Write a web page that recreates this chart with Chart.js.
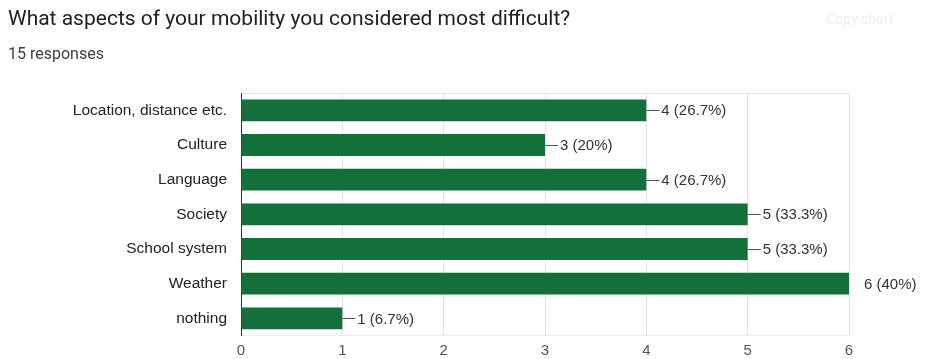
<!DOCTYPE html>
<html>
<head>
<meta charset="utf-8">
<script src="https://cdn.jsdelivr.net/npm/chart.js@4/dist/chart.umd.min.js"></script>
<style>
  html, body { margin: 0; padding: 0; background: #fff; }
  #wrap { width: 926px; height: 359px; position: relative; }
</style>
</head>
<body>
<div id="wrap"><canvas id="bar-chart"></canvas></div>
<script>
// datos
const categories = [
  "Location, distance etc.",
  "Culture",
  "Language",
  "Society",
  "School system",
  "Weather",
  "nothing",
];
const counts = [4, 3, 4, 5, 5, 6, 1];
const percents = ["26.7%", "20%", "26.7%", "33.3%", "33.3%", "40%", "6.7%"];
const xTicks = [0, 1, 2, 3, 4, 5, 6];

const titleText = "What aspects of your mobility you considered most difficult?";
const subtitleText = "15 responses";

// titulo, subtitulo y borde del area
const headerPlugin = {
  id: "header",
  beforeDraw(chart) {
    const ctx = chart.ctx;
    const a = chart.chartArea;
    ctx.save();
    ctx.textBaseline = "middle";
    ctx.textAlign = "left";
    ctx.fillStyle = "#202124";
    ctx.font = "21px Roboto";
    ctx.fillText(titleText, 8, 20);
    ctx.fillStyle = "#3c4043";
    ctx.font = "16px Roboto";
    ctx.fillText(subtitleText, 8, 55);
    ctx.fillStyle = "#eeeeee";
    ctx.font = "14px Roboto";
    ctx.fillText("Copy chart", 826, 20);
    ctx.strokeStyle = "#e6e6e6";
    ctx.lineWidth = 1;
    ctx.beginPath();
    ctx.moveTo(a.left, a.top + 0.5);
    ctx.lineTo(a.right, a.top + 0.5);
    ctx.moveTo(a.left, a.bottom - 0.5);
    ctx.lineTo(a.right, a.bottom - 0.5);
    ctx.stroke();
    ctx.restore();
  },
};

// etiquetas con linea guia
const labelPlugin = {
  id: "valueLabels",
  afterDatasetsDraw(chart) {
    const ctx = chart.ctx;
    const meta = chart.getDatasetMeta(0);
    const xScale = chart.scales.x;
    ctx.save();
    ctx.font = "15px 'Liberation Sans', Arial";
    ctx.textBaseline = "middle";
    ctx.textAlign = "left";
    meta.data.forEach((bar, i) => {
      const x = bar.x;
      const y = bar.y;
      if (counts[i] < xScale.max) {
        ctx.strokeStyle = "#555";
        ctx.lineWidth = 1;
        ctx.beginPath();
        ctx.moveTo(x, Math.round(y) + 0.5);
        ctx.lineTo(x + 13, Math.round(y) + 0.5);
        ctx.stroke();
      }
      ctx.fillStyle = "#333";
      ctx.fillText(counts[i] + " (" + percents[i] + ")", x + 15, y + 1);
    });
    ctx.restore();
  },
};

const contenedor = document.querySelector("#bar-chart").getContext("2d");

const barChart = new Chart(contenedor, {
  type: "bar",
  data: {
    labels: categories,
    datasets: [{
      data: counts,
      backgroundColor: "#13703b",
      borderWidth: 0,
      barPercentage: 0.63,
      categoryPercentage: 1,
    }],
  },
  options: {
    indexAxis: "y",
    responsive: true,
    maintainAspectRatio: false,
    animation: false,
    layout: { padding: { left: 8, right: 77, top: 93, bottom: 0 } },
    plugins: {
      legend: { display: false },
      tooltip: { enabled: false },
    },
    scales: {
      x: {
        min: 0,
        max: 6,
        afterFit(scale) { scale.height = 21; },
        afterBuildTicks(scale) { scale.ticks = xTicks.map(v => ({ value: v })); },
        grid: {
          color: ctx => (ctx.index === 0 ? "#333333" : "#e6e6e6"),
          drawTicks: false,
        },
        border: { display: false },
        ticks: {
          padding: 6,
          color: "#555",
          font: { family: "'Liberation Sans', Arial", size: 15 },
        },
      },
      y: {
        afterFit(scale) { scale.width = 233; },
        grid: { display: false, drawTicks: false },
        border: { display: true, color: "#333333" },
        ticks: {
          padding: 14,
          color: "#222",
          font: { family: "'Liberation Sans', Arial", size: 15.5 },
        },
      },
    },
  },
  plugins: [headerPlugin, labelPlugin],
});
</script>
</body>
</html>
